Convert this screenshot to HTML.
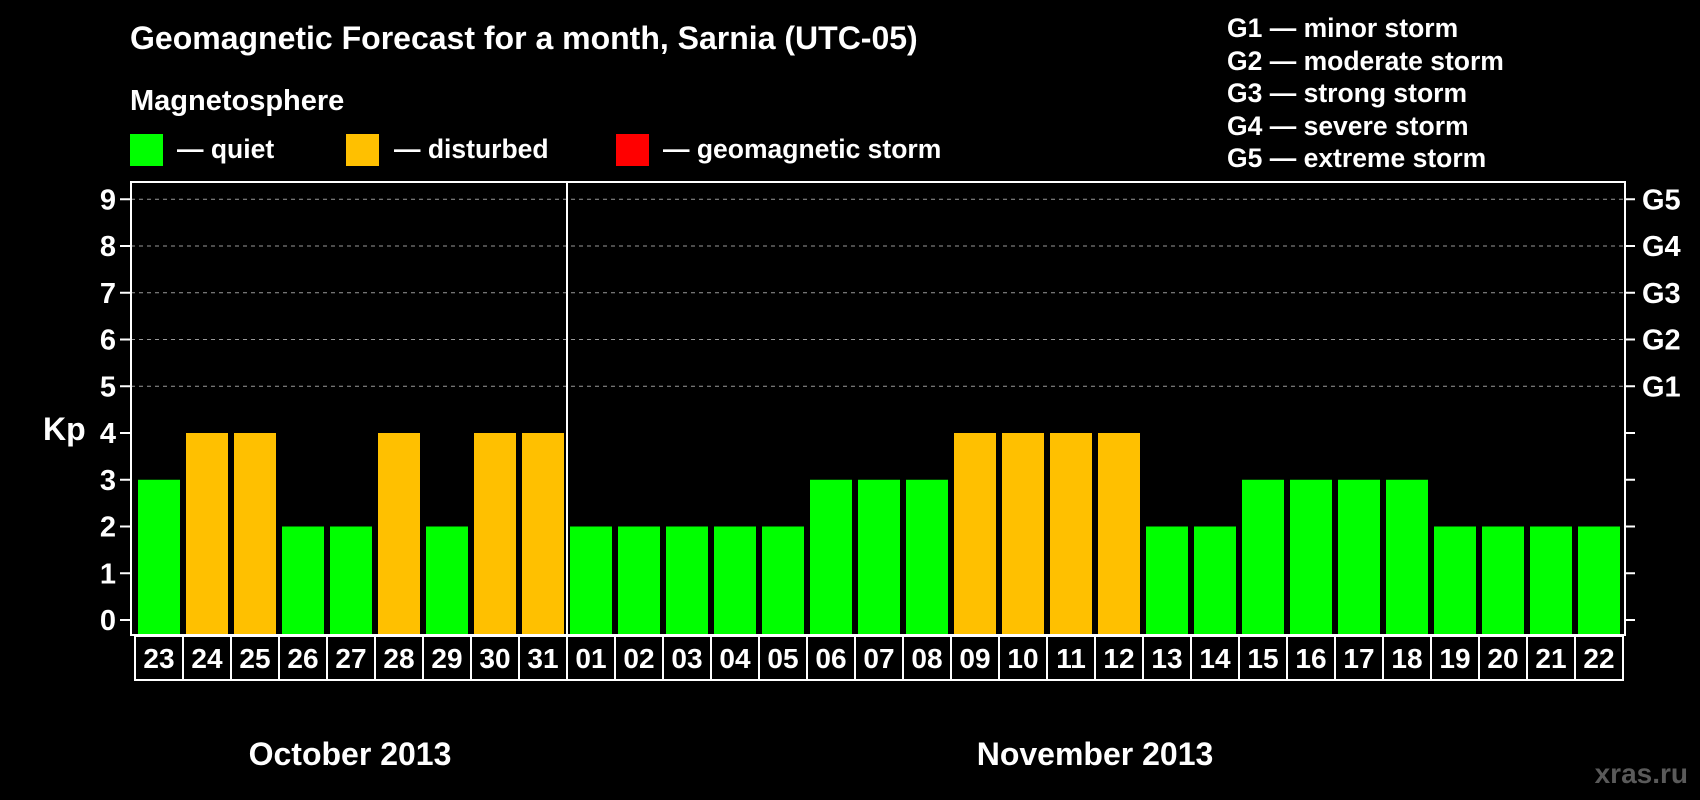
<!DOCTYPE html>
<html><head><meta charset="utf-8"><style>
html,body{margin:0;padding:0;background:#000;}
svg{display:block;font-family:"Liberation Sans",sans-serif;font-weight:bold;}
</style></head><body>
<svg id="chart" width="1700" height="800" viewBox="0 0 1700 800">
<rect x="0" y="0" width="1700" height="800" fill="#000"/>
<text x="130" y="49" fill="#fff" font-size="32">Geomagnetic Forecast for a month, Sarnia (UTC-05)</text>
<text x="130" y="110" fill="#fff" font-size="29">Magnetosphere</text>
<g><rect x="130" y="134" width="33" height="32" fill="#00ff00"/><text x="177" y="158" fill="#fff" font-size="26.5">— quiet</text></g>
<g><rect x="346" y="134" width="33" height="32" fill="#ffc000"/><text x="394" y="158" fill="#fff" font-size="26.5">— disturbed</text></g>
<g><rect x="616" y="134" width="33" height="32" fill="#ff0000"/><text x="663" y="158" fill="#fff" font-size="26.5">— geomagnetic storm</text></g>
<g fill="#fff" font-size="26.5">
<text x="1227" y="37">G1 — minor storm</text>
<text x="1227" y="70">G2 — moderate storm</text>
<text x="1227" y="102">G3 — strong storm</text>
<text x="1227" y="135">G4 — severe storm</text>
<text x="1227" y="167">G5 — extreme storm</text>
</g>
<text x="43" y="440" fill="#fff" font-size="32">Kp</text>
<text x="350" y="765" fill="#fff" font-size="32" text-anchor="middle">October 2013</text>
<text x="1095" y="765" fill="#fff" font-size="32" text-anchor="middle">November 2013</text>
<text x="1688" y="783" fill="#5a5a5a" font-size="28" text-anchor="end">xras.ru</text>
<g id="grid"></g><g id="bars"></g><g id="axes"></g>
</svg>
<script>
const days=["23","24","25","26","27","28","29","30","31","01","02","03","04","05","06","07","08","09","10","11","12","13","14","15","16","17","18","19","20","21","22"];
const kpValues=[3,4,4,2,2,4,2,4,4,2,2,2,2,2,3,3,3,4,4,4,4,2,2,3,3,3,3,2,2,2,2];
const yTicks=[0,1,2,3,4,5,6,7,8,9];
const gLabels=["G1","G2","G3","G4","G5"];
const gLevels=[5,6,7,8,9];
const NS="http://www.w3.org/2000/svg";
const L=131,R=1625,T=182,B=635;
const y=v=>620-v*46.75;
const x=i=>138+i*48;
function mk(tag,attrs,parent){const e=document.createElementNS(NS,tag);for(const k in attrs)e.setAttribute(k,attrs[k]);parent.appendChild(e);return e;}
const grid=document.getElementById('grid'),bars=document.getElementById('bars'),axes=document.getElementById('axes');
yTicks.forEach(v=>{
  if(v>=5){const g=mk('line',{x1:L,x2:R,y1:y(v),y2:y(v),stroke:'#999','stroke-dasharray':'4 4','stroke-width':1},grid);
  
  }
  const t=mk('line',{x1:L-11,x2:L,y1:y(v),y2:y(v),stroke:'#fff','stroke-width':2},axes);
  
  
  const t2=mk('line',{x1:R,x2:R+10,y1:y(v),y2:y(v),stroke:'#fff','stroke-width':2},axes);
  
  
  const lb=mk('text',{x:L-15,y:y(v)+10,fill:'#fff','font-size':29,'text-anchor':'end'},axes);
  lb.textContent=v;
  
  
});
gLabels.forEach((g,i)=>{
  const lb=mk('text',{x:R+17,y:y(gLevels[i])+10,fill:'#fff','font-size':29},axes);
  lb.textContent=g;
  
  
});
kpValues.forEach((v,i)=>{
  const col=v>=5?'#ff0000':(v>=4?'#ffc000':'#00ff00');
  const r=mk('rect',{x:x(i),y:y(v),width:42,height:634-y(v),fill:col},bars);
  
  
  const c=mk('rect',{x:x(i)-3,y:636,width:48,height:44,fill:'none',stroke:'#fff','stroke-width':2},axes);
  
  
  const t=mk('text',{x:x(i)+21,y:668,fill:'#fff','font-size':28,'text-anchor':'middle'},axes);
  t.textContent=days[i];
  
  
});
const fr=mk('rect',{x:L,y:T,width:R-L,height:B-T,fill:'none',stroke:'#fff','stroke-width':2},axes);


const dv=mk('line',{x1:567,x2:567,y1:T,y2:680,stroke:'#fff','stroke-width':2},axes);


</script>
</body></html>
